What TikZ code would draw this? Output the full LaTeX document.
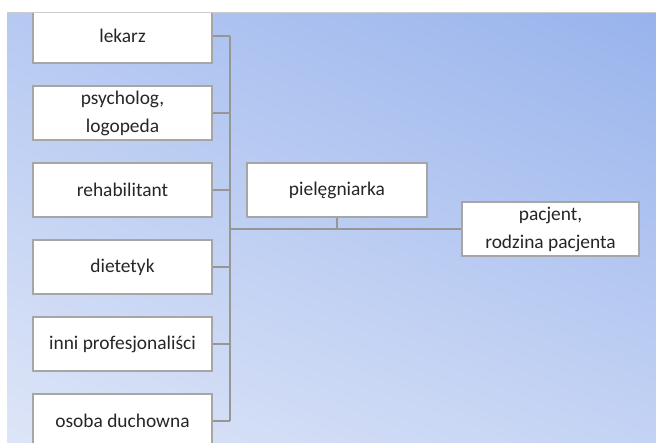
\documentclass[tikz,border=0pt]{standalone}
\usepackage{fontspec}
\setmainfont{Carlito}
\usepackage{tikz}
\usetikzlibrary{positioning,calc,shadings}
\definecolor{bgtl}{RGB}{182,201,242}
\definecolor{bgtr}{RGB}{152,179,236}
\definecolor{bgbl}{RGB}{221,229,247}
\definecolor{bgbr}{RGB}{196,211,244}
\definecolor{bxline}{RGB}{166,166,166}
\definecolor{cnline}{RGB}{150,150,150}
\definecolor{txt}{RGB}{38,38,38}
\tikzset{
  role/.style={draw=bxline, line width=1.6pt, fill=white, text=txt,
               minimum width=179pt, minimum height=54pt, inner sep=0pt,
               align=center, font=\fontsize{19.4}{28}\selectfont},
  conn/.style={cnline, line width=2pt},
}

\begin{document}
\begin{tikzpicture}[x=1pt, y=-1pt]
  \useasboundingbox (0,0) rectangle (656,442);
  \begin{scope}
    \clip (7,12) rectangle (656,442);
    \shade[upper left=bgtl, upper right=bgtr, lower left=bgbl, lower right=bgbr]
      (7,12) rectangle (656,442);
    % team on the left
    \node[role] (lekarz) at (122.5,36) {lekarz};
    \node[role] (psych) at (122.5,113) {psycholog,\\logopeda};
    \node[role] (rehab) at (122.5,190) {rehabilitant};
    \node[role] (diet) at (122.5,267) {dietetyk};
    \node[role] (inni) at (122.5,344) {inni profesjonaliści};
    \node[role] (osoba) at (122.5,421) {osoba duchowna};
    \coordinate (spine) at (230,0);
    \node[role, minimum width=180pt] (piel) at (337,190) {pielęgniarka};
    \node[role, minimum width=177pt] (pacjent) at (550.5,229) {pacjent,\\rodzina pacjenta};
    \foreach \b in {lekarz,psych,rehab,diet,inni,osoba}
      \draw[conn] (\b.east) -- (\b.east -| spine);
    \draw[conn] (lekarz.east -| spine) -- (osoba.east -| spine);
    \draw[conn] (pacjent.west -| spine) -- (pacjent.west);
    \draw[conn] (piel.south) -- (piel.south |- pacjent.west);
  \end{scope}
  \draw[gray!40, line width=1pt] (7,12) -- (656,12);
\end{tikzpicture}
\end{document}
